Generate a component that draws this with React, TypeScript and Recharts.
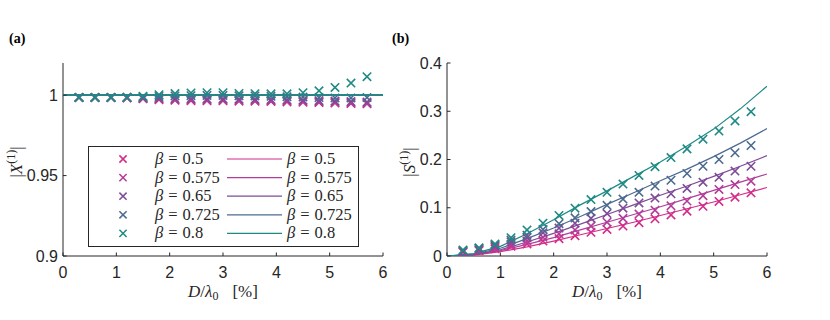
import React from "react";
import { ComposedChart, Scatter, XAxis, YAxis, Legend, Label } from "recharts";

const betas = ["0.5", "0.575", "0.65", "0.725", "0.8"];
const colors = ["#d22d8b", "#b23c99", "#7d4b97", "#4c6a8f", "#1e8a84"];

// measurement positions D/lambda0 [%]
const xMeas = [0.3, 0.6, 0.9, 1.2, 1.5, 1.8, 2.1, 2.4, 2.7, 3.0, 3.3, 3.6, 3.9, 4.2, 4.5, 4.8, 5.1, 5.4, 5.7];
// model curve sample positions
const xFit = [0, 0.5, 1, 1.5, 2, 2.5, 3, 3.5, 4, 4.5, 5, 5.5, 6];
const xFitA = [0, 6];

// panel (a): |X^(1)| measured
const xa050 = [0.9986, 0.9986, 0.9985, 0.9983, 0.9978, 0.9972, 0.9968, 0.9966, 0.9965, 0.9965, 0.9963, 0.9962, 0.9961, 0.9958, 0.9956, 0.9954, 0.9951, 0.9948, 0.9946];
const xa0575 = [0.9986, 0.9986, 0.9986, 0.9984, 0.998, 0.9976, 0.9973, 0.9971, 0.997, 0.997, 0.9968, 0.9967, 0.9966, 0.9964, 0.9962, 0.9959, 0.9956, 0.9953, 0.995];
const xa065 = [0.9986, 0.9986, 0.9986, 0.9985, 0.9983, 0.9981, 0.9979, 0.9978, 0.9977, 0.9977, 0.9975, 0.9974, 0.9973, 0.9971, 0.9969, 0.9966, 0.9963, 0.996, 0.9957];
const xa0725 = [0.9986, 0.9986, 0.9986, 0.9987, 0.9989, 0.9992, 0.9995, 0.9997, 0.9998, 0.9998, 0.9996, 0.9995, 0.9993, 0.999, 0.9988, 0.9985, 0.9983, 0.9983, 0.9985];
const xa080 = [0.9986, 0.9986, 0.9986, 0.9987, 0.9993, 1.0003, 1.001, 1.0014, 1.0015, 1.0015, 1.0011, 1.0009, 1.0008, 1.0008, 1.0015, 1.0027, 1.0048, 1.0075, 1.0115];
// panel (a): model, flat at 1
const fa050 = [1, 1];
const fa0575 = [1, 1];
const fa065 = [1, 1];
const fa0725 = [1, 1];
const fa080 = [1, 1];

// panel (b): |S^(1)| measured
const sb050 = [0.008, 0.011, 0.015, 0.02, 0.025, 0.031, 0.036, 0.042, 0.049, 0.055, 0.062, 0.069, 0.077, 0.085, 0.093, 0.103, 0.113, 0.122, 0.131];
const sb0575 = [0.009, 0.012, 0.018, 0.024, 0.031, 0.039, 0.046, 0.054, 0.062, 0.07, 0.078, 0.087, 0.095, 0.104, 0.114, 0.125, 0.138, 0.148, 0.155];
const sb065 = [0.01, 0.014, 0.021, 0.029, 0.038, 0.048, 0.058, 0.068, 0.078, 0.088, 0.099, 0.11, 0.12, 0.129, 0.14, 0.153, 0.163, 0.176, 0.186];
const sb0725 = [0.011, 0.016, 0.023, 0.033, 0.043, 0.055, 0.067, 0.079, 0.092, 0.105, 0.118, 0.132, 0.145, 0.157, 0.171, 0.186, 0.2, 0.214, 0.229];
const sb080 = [0.0125, 0.017, 0.025, 0.038, 0.054, 0.068, 0.084, 0.099, 0.117, 0.132, 0.149, 0.167, 0.185, 0.204, 0.222, 0.242, 0.259, 0.28, 0.299];
// panel (b): model
const fb050 = [0, 0.002, 0.009, 0.019, 0.031, 0.044, 0.057, 0.07, 0.084, 0.098, 0.112, 0.127, 0.142];
const fb0575 = [0, 0.003, 0.011, 0.024, 0.038, 0.054, 0.07, 0.086, 0.102, 0.119, 0.136, 0.153, 0.17];
const fb065 = [0, 0.003, 0.013, 0.029, 0.047, 0.066, 0.086, 0.106, 0.126, 0.145, 0.165, 0.186, 0.208];
const fb0725 = [0, 0.004, 0.016, 0.036, 0.058, 0.082, 0.107, 0.131, 0.156, 0.18, 0.206, 0.234, 0.264];
const fb080 = [0, 0.005, 0.02, 0.046, 0.075, 0.106, 0.135, 0.165, 0.195, 0.228, 0.263, 0.305, 0.352];

const xTicks = [0, 1, 2, 3, 4, 5, 6];
const aTicks = [0.9, 0.95, 1];
const bTicks = [0, 0.1, 0.2, 0.3, 0.4];

const INK = "#262626";
const SANS = "'Liberation Sans', Arial, sans-serif";
const SERIF = "'Liberation Serif', 'Times New Roman', serif";

const toPts = (xs: number[], ys: number[]) => xs.map((x, i) => ({ x, y: ys[i] }));

const measA = [xa050, xa0575, xa065, xa0725, xa080];
const fitA = [fa050, fa0575, fa065, fa0725, fa080];
const measB = [sb050, sb0575, sb065, sb0725, sb080];
const fitB = [fb050, fb0575, fb065, fb0725, fb080];

const Cross = (props: any) => {
  const { cx, cy, fill } = props;
  const s = 4.2;
  return (
    <path
      d={`M${cx - s},${cy - s}L${cx + s},${cy + s}M${cx - s},${cy + s}L${cx + s},${cy - s}`}
      stroke={fill}
      strokeWidth={1.6}
      fill="none"
    />
  );
};

const NoDot = () => <g />;

const XTick = (props: any) => {
  const { x, y, payload } = props;
  return (
    <g>
      <line x1={x} x2={x} y1={y} y2={y - 3.5} stroke={INK} strokeWidth={1} />
      <text x={x} y={y + 22} textAnchor="middle" fontFamily={SANS} fontSize={16} fill={INK}>
        {payload.value}
      </text>
    </g>
  );
};

const YTick = (props: any) => {
  const { x, y, payload } = props;
  return (
    <g>
      <line x1={x} x2={x + 3.5} y1={y} y2={y} stroke={INK} strokeWidth={1} />
      <text x={x - 5} y={y} dy="0.35em" textAnchor="end" fontFamily={SANS} fontSize={16} fill={INK}>
        {payload.value}
      </text>
    </g>
  );
};

const XTitle = ({ cx }: { cx: number }) => (
  <text x={cx} y={297} textAnchor="middle" fontFamily={SERIF} fontSize={17} fill={INK}>
    <tspan fontStyle="italic">D</tspan>
    <tspan>/</tspan>
    <tspan fontStyle="italic">λ</tspan>
    <tspan fontSize={12} dy={3}>0</tspan>
    <tspan dy={-3} dx={14}>[%]</tspan>
  </text>
);

const YTitle = ({ x, letter }: { x: number; letter: string }) => (
  <text
    x={x}
    y={162}
    transform={`rotate(-90 ${x} 162)`}
    textAnchor="middle"
    fontFamily={SERIF}
    fontSize={17}
    fill={INK}
  >
    <tspan>|</tspan>
    <tspan fontStyle="italic">{letter}</tspan>
    <tspan fontSize={12} dy={-7}>(1)</tspan>
    <tspan dy={7}>|</tspan>
  </text>
);

const BetaText = ({ x, y, b }: { x: number; y: number; b: string }) => (
  <text x={x} y={y} fontFamily={SERIF} fontSize={16.5} fill={INK}>
    <tspan fontStyle="italic">β</tspan>
    <tspan dx={5}>=</tspan>
    <tspan dx={5}>{b}</tspan>
  </text>
);

const LegendBox = () => (
  <svg width={271} height={101} style={{ display: "block" }}>
    <rect x={0.5} y={0.5} width={270} height={100} fill="#fff" stroke={INK} strokeWidth={1} />
    {betas.map((b, i) => {
      const cy = 13 + i * 18.6;
      const s = 3.6;
      const mx = 35;
      return (
        <g key={b}>
          <path
            d={`M${mx - s},${cy - s}L${mx + s},${cy + s}M${mx - s},${cy + s}L${mx + s},${cy - s}`}
            stroke={colors[i]}
            strokeWidth={1.5}
          />
          <BetaText x={67} y={cy + 5} b={b} />
          <line x1={139} x2={194} y1={cy} y2={cy} stroke={colors[i]} strokeWidth={1.2} />
          <BetaText x={199} y={cy + 5} b={b} />
        </g>
      );
    })}
  </svg>
);

const axisX = () => (
  <XAxis
    type="number"
    dataKey="x"
    domain={[0, 6]}
    ticks={xTicks}
    height={64}
    tickSize={0}
    tickMargin={0}
    tick={<XTick />}
    axisLine={{ stroke: INK, strokeWidth: 1 }}
    tickLine={false}
    allowDataOverflow
  >
    <Label content={() => <XTitle cx={223} />} />
  </XAxis>
);

export default function App() {
  return (
    <div style={{ position: "absolute", left: 0, top: 0, width: 830, height: 320, background: "#fff" }}>
      <div style={{ position: "absolute", left: 9, top: 31, fontFamily: SERIF, fontWeight: "bold", fontSize: 14, color: "#000" }}>
        (a)
      </div>
      <div style={{ position: "absolute", left: 392, top: 31, fontFamily: SERIF, fontWeight: "bold", fontSize: 14, color: "#000" }}>
        (b)
      </div>

      <div style={{ position: "absolute", left: 0, top: 0 }}>
        <ComposedChart width={400} height={320} margin={{ top: 63, right: 17, bottom: 0, left: 0 }}>
          {axisX()}
          <YAxis
            type="number"
            dataKey="y"
            domain={[0.9, 1.02]}
            ticks={aTicks}
            width={63}
            tickSize={0}
            tickMargin={0}
            tick={<YTick />}
            axisLine={{ stroke: INK, strokeWidth: 1 }}
            tickLine={false}
            allowDataOverflow
          >
            <Label content={() => <YTitle x={22} letter="X" />} />
          </YAxis>
          {measA.map((ys, i) => (
            <Scatter
              key={"ma" + i}
              data={toPts(xMeas, ys)}
              fill={colors[i]}
              shape={<Cross />}
              isAnimationActive={false}
            />
          ))}
          {fitA.map((ys, i) => (
            <Scatter
              key={"fa" + i}
              data={toPts(xFitA, ys)}
              fill={colors[i]}
              line={{ stroke: colors[i], strokeWidth: i === 4 ? 1.6 : 1.2 }}
              shape={<NoDot />}
              isAnimationActive={false}
            />
          ))}
          <Legend
            layout="vertical"
            align="center"
            verticalAlign="middle"
            content={() => <LegendBox />}
            wrapperStyle={{ left: 88, top: 146, width: 271, height: 101 }}
          />
        </ComposedChart>
      </div>

      <div style={{ position: "absolute", left: 384, top: 0 }}>
        <ComposedChart width={446} height={320} margin={{ top: 63, right: 63, bottom: 0, left: 0 }}>
          {axisX()}
          <YAxis
            type="number"
            dataKey="y"
            domain={[0, 0.4]}
            ticks={bTicks}
            width={63}
            tickSize={0}
            tickMargin={0}
            tick={<YTick />}
            axisLine={{ stroke: INK, strokeWidth: 1 }}
            tickLine={false}
            allowDataOverflow
          >
            <Label content={() => <YTitle x={31} letter="S" />} />
          </YAxis>
          {fitB.map((ys, i) => (
            <Scatter
              key={"fb" + i}
              data={toPts(xFit, ys)}
              fill={colors[i]}
              line={{ stroke: colors[i], strokeWidth: 1.2 }}
              shape={<NoDot />}
              isAnimationActive={false}
            />
          ))}
          {measB.map((ys, i) => (
            <Scatter
              key={"mb" + i}
              data={toPts(xMeas, ys)}
              fill={colors[i]}
              shape={<Cross />}
              isAnimationActive={false}
            />
          ))}
        </ComposedChart>
      </div>
    </div>
  );
}
